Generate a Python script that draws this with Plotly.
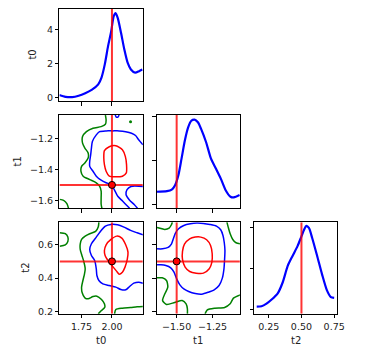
import plotly.graph_objects as go

# ---------------- data ----------------
names = ["t0", "t1", "t2"]
truths = [2.0, -1.5, 0.5]

# 1-D marginals
t0_grid = [1.567, 1.618, 1.672, 1.726, 1.78, 1.833, 1.887, 1.914, 1.941, 1.968, 1.994,
           2.014, 2.03, 2.048, 2.075, 2.102, 2.129, 2.156, 2.191, 2.223, 2.25]
t0_dens = [0.15, 0.04, 0.02, 0.1, 0.25, 0.45, 0.78, 1.18, 1.96, 3.04, 3.92,
           4.8, 5.0, 4.7, 3.82, 2.84, 2.06, 1.66, 1.47, 1.56, 1.66]

t1_grid = [-1.641, -1.568, -1.534, -1.511, -1.488, -1.466, -1.443, -1.42, -1.398, -1.375,
           -1.352, -1.33, -1.295, -1.261, -1.227, -1.193, -1.159, -1.125, -1.102, -1.062]
t1_dens = [0.56, 0.59, 0.66, 0.86, 1.31, 2.07, 2.9, 3.5, 3.8, 3.85,
           3.73, 3.43, 2.82, 2.07, 1.62, 1.16, 0.63, 0.33, 0.30, 0.41]

t2_grid = [0.158, 0.195, 0.233, 0.27, 0.32, 0.357, 0.395, 0.432, 0.47, 0.5,
           0.52, 0.537, 0.557, 0.582, 0.62, 0.657, 0.695, 0.725, 0.75]
t2_dens = [0.145, 0.16, 0.29, 0.48, 0.81, 1.34, 2.14, 2.63, 3.11, 3.59,
           3.91, 4.1, 4.0, 3.51, 2.63, 1.74, 0.94, 0.61, 0.57]

# ---- contour paths, panel t1 vs t0 ----
c10_green_a_x = [1.946, 1.952, 1.946, 1.911, 1.844, 1.790, 1.758, 1.758, 1.777, 1.804, 1.804,
                 1.777, 1.75, 1.745, 1.763, 1.817, 1.871, 1.898, 1.911, 1.911, 1.911, 1.917]
c10_green_a_y = [-1.045, -1.077, -1.105, -1.120, -1.131, -1.153, -1.185, -1.228, -1.260, -1.292, -1.325,
                 -1.357, -1.379, -1.411, -1.443, -1.465, -1.486, -1.508, -1.540, -1.583, -1.626, -1.652]
c10_green_b_x = [1.570, 1.602, 1.629, 1.6425]
c10_green_b_y = [-1.594, -1.600, -1.6215, -1.652]
c10_green_dot_x = [2.153]
c10_green_dot_y = [-1.088]
c10_blue_a_x = [2.027, 2.035, 2.05, 2.059]
c10_blue_a_y = [-1.045, -1.058, -1.058, -1.045]
c10_blue_b_x = [2.255, 2.220, 2.194, 2.161, 2.113, 2.059, 2.005, 1.952, 1.898, 1.871, 1.839, 1.831,
                1.825, 1.817, 1.817, 1.844, 1.871, 1.911, 1.952, 1.995, 2.048, 2.089, 2.129, 2.145]
c10_blue_b_y = [-1.239, -1.206, -1.178, -1.163, -1.153, -1.148, -1.148, -1.148, -1.153, -1.174, -1.217, -1.260,
                -1.303, -1.346, -1.379, -1.411, -1.443, -1.469, -1.486, -1.499, -1.574, -1.6065, -1.639, -1.652]
c10_blue_c_x = [2.255, 2.156, 2.124, 2.116, 2.142, 2.183, 2.21]
c10_blue_c_y = [-1.51, -1.51, -1.531, -1.563, -1.596, -1.628, -1.652]
c10_red_x = [1.938, 1.978, 2.032, 2.086, 2.110, 2.120, 2.118, 2.086, 2.032, 1.978, 1.952, 1.938, 1.933, 1.938]
c10_red_y = [-1.277, -1.251, -1.245, -1.271, -1.314, -1.368, -1.4215, -1.443, -1.447, -1.443, -1.411, -1.368, -1.325, -1.277]

# ---- contour paths, panel t2 vs t0 ----
c20_green_a_x = [1.570, 1.616, 1.637, 1.637, 1.616, 1.570]
c20_green_a_y = [0.671, 0.665, 0.645, 0.619, 0.599, 0.591]
c20_green_b_x = [1.8925, 1.887, 1.8656, 1.817, 1.7796, 1.75, 1.739, 1.739, 1.7527, 1.766, 1.7796, 1.774,
                 1.761, 1.75, 1.755, 1.777, 1.804, 1.844, 1.876, 1.914, 1.938, 1.941, 1.911, 1.887]
c20_green_b_y = [0.734, 0.7045, 0.6786, 0.6647, 0.6507, 0.6308, 0.605, 0.571, 0.535, 0.5055, 0.4557, 0.4259,
                 0.3861, 0.3463, 0.3124, 0.2826, 0.2766, 0.2905, 0.2925, 0.2726, 0.2468, 0.2269, 0.205, 0.187]
c20_green_c_x = [2.0215, 2.032, 2.086, 2.153, 2.207, 2.255]
c20_green_c_y = [0.187, 0.213, 0.221, 0.225, 0.229, 0.231]
c20_blue_x = [2.255, 2.207, 2.153, 2.099, 2.046, 1.992, 1.946, 1.911, 1.871, 1.831, 1.817, 1.831, 1.8575,
              1.871, 1.876, 1.8925, 1.925, 1.978, 2.032, 2.073, 2.113, 2.145, 2.18, 2.220, 2.255]
c20_blue_y = [0.6587, 0.6706, 0.6846, 0.7045, 0.7184, 0.7204, 0.7104, 0.6846, 0.6448, 0.605, 0.571, 0.535, 0.5055,
              0.4557, 0.416, 0.3861, 0.3662, 0.356, 0.3463, 0.3323, 0.3303, 0.3502, 0.3701, 0.376, 0.3701]
c20_red_x = [2.04, 2.081, 2.113, 2.132, 2.126, 2.1075, 2.086, 2.059, 2.0376, 2.0108, 1.973, 1.9435, 1.938, 1.952, 1.992, 2.04]
c20_red_y = [0.6507, 0.6388, 0.599, 0.555, 0.5114, 0.4657, 0.4358, 0.4239, 0.4418, 0.4657, 0.4995, 0.535, 0.565, 0.599, 0.6308, 0.6507]

# ---- contour paths, panel t2 vs t1 ----
c21_green_a_x = [-1.6365, -1.6093, -1.582, -1.5525, -1.5366, -1.5298]
c21_green_a_y = [0.7025, 0.6965, 0.6906, 0.6985, 0.7184, 0.734]
c21_green_b_x = [-1.1503, -1.1412, -1.1276, -1.1094, -1.0867, -1.057]
c21_green_b_y = [0.734, 0.7045, 0.6647, 0.6308, 0.611, 0.605]
c21_green_c_x = [-1.6365, -1.6002, -1.5707, -1.5616, -1.582, -1.598, -1.5707, -1.5139, -1.4616, -1.4343, -1.4252, -1.4252]
c21_green_c_y = [0.402, 0.402, 0.3861, 0.3463, 0.3065, 0.2667, 0.2428, 0.2547, 0.2667, 0.2468, 0.2169, 0.187]
c21_green_d_x = [-1.3025, -1.2866, -1.2344, -1.1662, -1.1276, -1.1048, -1.057]
c21_green_d_y = [0.187, 0.2109, 0.221, 0.225, 0.2468, 0.2806, 0.3005]
c21_blue_x = [-1.6365, -1.598, -1.5593, -1.5366, -1.523, -1.5093, -1.4866, -1.4502, -1.4048, -1.3593, -1.3139, -1.2684,
              -1.223, -1.1935, -1.1776, -1.1685, -1.1639, -1.1662, -1.1708, -1.1821, -1.2048, -1.2389, -1.2798, -1.3253,
              -1.3707, -1.4162, -1.4502, -1.4775, -1.5, -1.5184, -1.5411, -1.5752, -1.6093, -1.6365]
c21_blue_y = [0.575, 0.575, 0.5831, 0.603, 0.6348, 0.6667, 0.6945, 0.714, 0.724, 0.7284, 0.7264, 0.7204,
              0.7104, 0.6886, 0.6547, 0.611, 0.5652, 0.515, 0.4557, 0.4, 0.356, 0.3303, 0.316, 0.3045,
              0.3085, 0.3204, 0.336, 0.3602, 0.396, 0.4358, 0.4617, 0.4756, 0.4796, 0.4796]
c21_red_x = [-1.4093, -1.3707, -1.3321, -1.2912, -1.2639, -1.2526, -1.2548, -1.273, -1.3139, -1.3639, -1.4093, -1.4411, -1.4593, -1.4593, -1.4457, -1.4093]
c21_red_y = [0.6348, 0.6448, 0.6448, 0.6289, 0.595, 0.5453, 0.4955, 0.4557, 0.4299, 0.4299, 0.4398, 0.4657, 0.5114, 0.5592, 0.603, 0.6348]

# axis ranges and ticks
t0_range = [1.568, 2.254]
t1_xrange = [-1.64, -1.06]
t1_yrange = [-1.652, -1.045]
t2_xrange = [0.138, 0.775]
t2_yrange = [0.187, 0.734]
d0_range = [-0.22, 5.24]
d1_range = [-0.195, 4.06]
d2_range = [-0.21, 4.285]

t0_ticks = [1.75, 2.0]
t0_ticklabels = ["1.75", "2.00"]
t1_xticks = [-1.5, -1.25]
t1_xticklabels = ["\u22121.50", "\u22121.25"]
t1_yticks = [-1.2, -1.4, -1.6]
t1_yticklabels = ["\u22121.2", "\u22121.4", "\u22121.6"]
t2_yticks = [0.2, 0.4, 0.6]
t2_yticklabels = ["0.2", "0.4", "0.6"]
t2_xticks = [0.25, 0.5, 0.75]
t2_xticklabels = ["0.25", "0.50", "0.75"]
dens_ticks = [0, 2, 4]
dens_ticklabels = ["0", "2", "4"]

# ---------------- figure ----------------
# the page body adds an 8 px margin, so the figure is drawn 8 px in from the window corner
OFF = 8
W, H = 366 - OFF, 359 - OFF
BLUE = "#0000ff"
GREEN = "#008000"
RED = "#ff0000"
TRUTH = "rgba(255,0,0,0.8)"

fig = go.Figure()


def line(xs, ys, color, width, ax, spline=True):
    fig.add_trace(go.Scatter(
        x=xs, y=ys, mode="lines",
        line=dict(color=color, width=width, shape="spline" if spline else "linear", smoothing=0.7),
        xaxis="x" + ax, yaxis="y" + ax, hoverinfo="skip", showlegend=False))


# diagonal
line(t0_grid, t0_dens, BLUE, 2.2, "")
line(t1_grid, t1_dens, BLUE, 2.2, "3")
line(t2_grid, t2_dens, BLUE, 2.2, "6")

# contours
for xs, ys, c in [(c10_green_a_x, c10_green_a_y, GREEN), (c10_green_b_x, c10_green_b_y, GREEN),
                  (c10_blue_a_x, c10_blue_a_y, BLUE), (c10_blue_b_x, c10_blue_b_y, BLUE),
                  (c10_blue_c_x, c10_blue_c_y, BLUE), (c10_red_x, c10_red_y, RED)]:
    line(xs, ys, c, 1.5, "2")
fig.add_trace(go.Scatter(x=c10_green_dot_x, y=c10_green_dot_y, mode="markers",
                         marker=dict(color=GREEN, size=3), xaxis="x2", yaxis="y2",
                         hoverinfo="skip", showlegend=False))
for xs, ys, c in [(c20_green_a_x, c20_green_a_y, GREEN), (c20_green_b_x, c20_green_b_y, GREEN),
                  (c20_green_c_x, c20_green_c_y, GREEN), (c20_blue_x, c20_blue_y, BLUE),
                  (c20_red_x, c20_red_y, RED)]:
    line(xs, ys, c, 1.5, "4")
for xs, ys, c in [(c21_green_a_x, c21_green_a_y, GREEN), (c21_green_b_x, c21_green_b_y, GREEN),
                  (c21_green_c_x, c21_green_c_y, GREEN), (c21_green_d_x, c21_green_d_y, GREEN),
                  (c21_blue_x, c21_blue_y, BLUE), (c21_red_x, c21_red_y, RED)]:
    line(xs, ys, c, 1.5, "5")

# truth lines
line([truths[0]] * 2, d0_range, TRUTH, 2, "", False)
line([truths[1]] * 2, d1_range, TRUTH, 2, "3", False)
line([truths[2]] * 2, d2_range, TRUTH, 2, "6", False)
line([truths[0]] * 2, t1_yrange, TRUTH, 2, "2", False)
line(t0_range, [truths[1]] * 2, TRUTH, 2, "2", False)
line([truths[0]] * 2, t2_yrange, TRUTH, 2, "4", False)
line(t0_range, [truths[2]] * 2, TRUTH, 2, "4", False)
line([truths[1]] * 2, t2_yrange, TRUTH, 2, "5", False)
line(t1_xrange, [truths[2]] * 2, TRUTH, 2, "5", False)

# truth markers
for xi, yi, ax in [(0, 1, "2"), (0, 2, "4"), (1, 2, "5")]:
    fig.add_trace(go.Scatter(x=[truths[xi]], y=[truths[yi]], mode="markers",
                             marker=dict(color=RED, size=7, line=dict(color="black", width=1)),
                             xaxis="x" + ax, yaxis="y" + ax, hoverinfo="skip", showlegend=False))

# layout geometry (window pixels -> paper)
cols = [(60.5, 145.5), (159.5, 244.5), (259.0, 344.0)]
rows = [(9.0, 102.0), (116.0, 210.0), (224.0, 316.5)]


def px_x(v):
    return (v - OFF) / W


def px_y(v):
    return 1 - (v - OFF) / H


def xd(c):
    return [px_x(cols[c][0]), px_x(cols[c][1])]


def yd(r):
    return [px_y(rows[r][1]), px_y(rows[r][0])]


FONT = dict(family="DejaVu Sans", size=9.5, color="#222222")
common = dict(showline=True, mirror=True, linecolor="black", linewidth=1, ticks="outside",
              ticklen=3.5, tickwidth=1, tickcolor="black", showgrid=False, zeroline=False,
              tickfont=FONT, fixedrange=True)


def ax(domain, anchor, rng, tv, tt=None):
    d = dict(common, domain=domain, anchor=anchor, range=rng, tickvals=tv, tickmode="array")
    if tt is None:
        d["showticklabels"] = False
    else:
        d["ticktext"] = tt
    return d


fig.update_layout(
    width=W, height=H, margin=dict(l=0, r=0, t=0, b=0),
    paper_bgcolor="white", plot_bgcolor="white", showlegend=False,
    xaxis=ax(xd(0), "y", t0_range, t0_ticks),
    yaxis=ax(yd(0), "x", d0_range, dens_ticks, dens_ticklabels),
    xaxis2=ax(xd(0), "y2", t0_range, t0_ticks),
    yaxis2=ax(yd(1), "x2", t1_yrange, t1_yticks, t1_yticklabels),
    xaxis3=ax(xd(1), "y3", t1_xrange, t1_xticks),
    yaxis3=ax(yd(1), "x3", d1_range, dens_ticks),
    xaxis4=ax(xd(0), "y4", t0_range, t0_ticks, t0_ticklabels),
    yaxis4=ax(yd(2), "x4", t2_yrange, t2_yticks, t2_yticklabels),
    xaxis5=ax(xd(1), "y5", t1_xrange, t1_xticks, t1_xticklabels),
    yaxis5=ax(yd(2), "x5", t2_yrange, t2_yticks),
    xaxis6=ax(xd(2), "y6", t2_xrange, t2_xticks, t2_xticklabels),
    yaxis6=ax(yd(2), "x6", d2_range, dens_ticks),
)

# axis labels
TFONT = dict(family="DejaVu Sans", size=10, color="#222222")
for c, name in enumerate(names):
    fig.add_annotation(text=name, xref="paper", yref="paper",
                       x=px_x((cols[c][0] + cols[c][1]) / 2), y=px_y(343),
                       showarrow=False, font=TFONT, xanchor="center", yanchor="middle")
for r, (name, px) in enumerate(zip(names, [33, 18, 25])):
    fig.add_annotation(text=name, xref="paper", yref="paper",
                       x=px_x(px), y=px_y((rows[r][0] + rows[r][1]) / 2), textangle=-90,
                       showarrow=False, font=TFONT, xanchor="center", yanchor="middle")

fig.write_html("out.html")
